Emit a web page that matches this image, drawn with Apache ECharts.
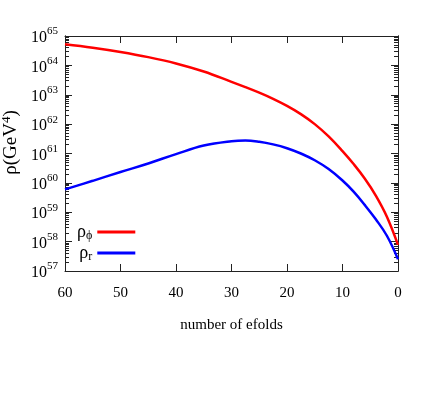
<!DOCTYPE html>
<html>
<head>
<meta charset="utf-8">
<script src="https://cdn.jsdelivr.net/npm/echarts@6/dist/echarts.min.js"></script>
<style>
  html, body { margin: 0; padding: 0; background: #fff; }
</style>
</head>
<body>
<div id="chart" style="width: 421px;height: 396px;"></div>
<script>
// number of efolds (x) and log10 of energy density (y)
const efolds = [60, 55, 50, 45, 40, 35, 30, 27.5, 25, 22.5, 20, 17.5, 15, 12.5, 10, 8, 6, 4, 2, 0]
const rhoPhiExp = [64.72, 64.6, 64.455, 64.28, 64.065, 63.79, 63.44, 63.26, 63.07, 62.86, 62.62, 62.34, 62.0, 61.58, 61.08, 60.64, 60.15, 59.57, 58.85, 57.89]
const rhoRExp = [59.78, 60.07, 60.37, 60.66, 60.98, 61.27, 61.42, 61.445, 61.4, 61.31, 61.18, 61.0, 60.77, 60.47, 60.08, 59.7, 59.25, 58.76, 58.2, 57.4]
const decades = [57, 58, 59, 60, 61, 62, 63, 64, 65]
const xTicks = [60, 50, 40, 30, 20, 10, 0]

// minor log ticks between decades
const minorTicks = []
decades.slice(0, -1).forEach(d => {
    for (let k = 2; k <= 9; k++) minorTicks.push(d + Math.log10(k))
})

const serif = 'Liberation Serif'
const axisCol = '#222'

function pairs(ys) {
    return efolds.map((x, i) => [x, ys[i]])
}

function yAxisBase(pos, ticks, len, labels) {
    return {
        type: 'value',
        position: pos,
        min: 57,
        max: 65,
        interval: 1,
        splitLine: { show: false },
        axisLine: { show: true, onZero: false, lineStyle: { color: axisCol, width: 1 } },
        axisTick: { show: true, inside: true, length: len, customValues: ticks, lineStyle: { color: axisCol } },
        axisLabel: labels ? {
            show: true,
            margin: 7,
            customValues: decades,
            formatter: v => '{b|10}{s|' + v + '}',
            rich: {
                b: { fontFamily: serif, fontSize: 16, color: '#000', lineHeight: 20, verticalAlign: 'bottom' },
                s: { fontFamily: serif, fontSize: 11, color: '#000', lineHeight: 20, verticalAlign: 'top', padding: [0, 0, 7, 0] }
            }
        } : { show: false }
    }
}

function xAxisBase(pos) {
    return {
        type: 'value',
        position: pos,
        min: 0,
        max: 60,
        interval: 10,
        inverse: true,
        splitLine: { show: false },
        axisLine: { show: true, onZero: false, lineStyle: { color: axisCol } },
        axisTick: { show: true, inside: true, length: 7, lineStyle: { color: axisCol } },
        axisLabel: { show: false }
    }
}

const legendRich = {
    r: { fontFamily: serif, fontSize: 18, color: '#000' },
    u: { fontFamily: serif, fontSize: 12, color: '#000', padding: [8, 0, 0, 0] }
}

var chartDom = document.getElementById('chart');
var myChart = echarts.init(chartDom);
var option = {
    animation: false,
    backgroundColor: '#fff',
    grid: { left: 65, right: 23, top: 36, bottom: 125, outerBoundsMode: 'none', containLabel: false },
    legend: {
        orient: 'vertical',
        left: 72,
        top: 218,
        align: 'right',
        itemWidth: 38,
        itemHeight: 3,
        itemGap: 2,
        icon: 'rect',
        textStyle: { fontFamily: serif, fontSize: 16, color: '#000', rich: legendRich },
        formatter: name => name === 'phi' ? '{r|ρ}{u|ϕ}' : '{r|ρ}{u|r}',
        data: ['phi', 'r']
    },
    xAxis: [
        Object.assign(xAxisBase('bottom'), {
            name: 'number of efolds',
            nameLocation: 'middle',
            nameGap: 47,
            nameTextStyle: { fontFamily: serif, fontSize: 15, color: '#000' },
            axisLabel: { show: true, margin: 15, customValues: xTicks, fontFamily: serif, fontSize: 15, color: '#000' }
        }),
        xAxisBase('top')
    ],
    yAxis: [
        Object.assign(yAxisBase('left', decades, 7, true), {
            name: 'ρ(GeV{s|4})',
            nameLocation: 'middle',
            nameGap: 40,
            nameRotate: 90,
            nameTextStyle: {
                fontFamily: serif, fontSize: 19, color: '#000',
                padding: [0, 0, 0, 22],
                rich: { s: { fontFamily: serif, fontSize: 13, color: '#000', padding: [0, 0, 9, 0] } }
            }
        }),
        yAxisBase('right', decades, 7, false),
        // extra axes carry the minor log ticks; offset 0 keeps them on the border
        Object.assign(yAxisBase('left', minorTicks, 4, false), { offset: 0 }),
        Object.assign(yAxisBase('right', minorTicks, 4, false), { offset: 0 })
    ],
    series: [{
        name: 'phi',
        type: 'line',
        data: pairs(rhoPhiExp),
        smooth: 0.4,
        showSymbol: false,
        lineStyle: { color: '#ff0000', width: 2.5 },
        itemStyle: { color: '#ff0000' }
    }, {
        name: 'r',
        type: 'line',
        data: pairs(rhoRExp),
        smooth: 0.4,
        showSymbol: false,
        lineStyle: { color: '#0000ff', width: 2.5 },
        itemStyle: { color: '#0000ff' }
    }]
};
option && myChart.setOption(option);
</script>
</body>
</html>
